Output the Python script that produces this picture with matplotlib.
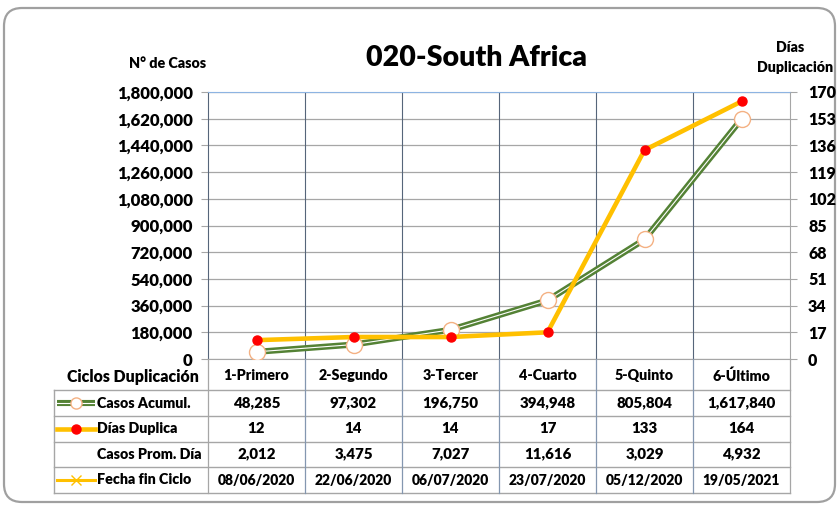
import numpy as np
import matplotlib
matplotlib.use('Agg')
import matplotlib.pyplot as plt
from matplotlib.patches import FancyBboxPatch
from matplotlib.ticker import FuncFormatter

plt.rcParams['font.family'] = ['Lato', 'DejaVu Sans']
plt.rcParams['font.weight'] = 'heavy'

ciclos = ['1-Primero', '2-Segundo', '3-Tercer', '4-Cuarto', '5-Quinto', '6-Último']
casos_acumul = [48285, 97302, 196750, 394948, 805804, 1617840]
dias_duplica = [12, 14, 14, 17, 133, 164]
casos_prom_dia = [2012, 3475, 7027, 11616, 3029, 4932]
fecha_fin = ['08/06/2020', '22/06/2020', '06/07/2020', '23/07/2020',
             '05/12/2020', '19/05/2021']

left_ticks = np.arange(0, 1800001, 180000)
right_ticks = np.arange(0, 171, 17)

GREEN = '#548235'
GOLD = '#FFC000'
RED = '#FF0000'
ORANGE = '#F4B183'
GRID = '#A6A6A6'
VLINE = '#56657A'

W, H = 840, 505
fig = plt.figure(figsize=(W / 100, H / 100), dpi=100)

# background / frame in pixel coordinates
bg = fig.add_axes([0, 0, 1, 1])
bg.set_xlim(0, W)
bg.set_ylim(H, 0)
bg.axis('off')
bg.add_patch(FancyBboxPatch((4, 8), 831, 494,
                            boxstyle='round,pad=0,rounding_size=18',
                            fc='white', ec='#A0A0A0', lw=1.6))
bg.text(476, 58, '020-South Africa', ha='center', va='center', fontsize=20.5)
bg.text(168, 63, 'N° de Casos', ha='center', va='center', fontsize=10.3)
bg.text(790, 47, 'Días', ha='center', va='center', fontsize=10.3)
bg.text(795, 68, 'Duplicación', ha='center', va='center', fontsize=10.3)

# main plot
x = np.arange(len(ciclos))
ax = fig.add_axes([208 / W, 1 - 359 / H, 582 / W, 267 / H])
ax.set_facecolor('none')
ax.set_xlim(-0.5, len(ciclos) - 0.5)
ax.set_ylim(0, 1800000)
ax.set_yticks(left_ticks)
ax.yaxis.set_major_formatter(FuncFormatter(lambda v, p: f'{v:,.0f}'))
ax.set_xticks([])
ax.tick_params(axis='y', labelsize=12, length=5, color=GRID, pad=6)
ax.grid(axis='y', color=GRID, lw=0.9)
ax.set_axisbelow(True)
for i in range(len(ciclos) - 1):
    ax.axvline(i + 0.5, color=VLINE, lw=0.8, zorder=1)
for s in ['left', 'right', 'bottom']:
    ax.spines[s].set_color(GRID)
ax.spines['left'].set_color(VLINE)
ax.spines['top'].set_color('#8DB4E2')

ax.plot(x, casos_acumul, color=GREEN, lw=4.4, zorder=3, solid_capstyle='butt')
ax.plot(x, casos_acumul, color='white', lw=0.8, zorder=3)
ax.plot(x, casos_acumul, ls='none', marker='o', ms=11.5, mfc='white',
        mec=ORANGE, mew=1.0, zorder=4)

ax2 = ax.twinx()
ax2.set_ylim(0, 170)
ax2.set_yticks(right_ticks)
ax2.tick_params(axis='y', labelsize=11.5, length=5, color=GRID, pad=8)
for s in ax2.spines.values():
    s.set_visible(False)
ax2.plot(x, dias_duplica, color=GOLD, lw=3.3, zorder=3)
ax2.plot(x, dias_duplica, ls='none', marker='o', ms=6.5, mfc=RED, mec=RED,
         zorder=4)

# data table below the plot
tleft = -0.5 - (208 - 54) / 97
tb = fig.add_axes([54 / W, 1 - 493 / H, 736 / W, 134 / H])
tb.set_xlim(tleft, len(ciclos) - 0.5)
tb.set_ylim(493, 359)
tb.axis('off')

row_edges = [390, 416, 441.5, 467, 493]
for y in row_edges:
    tb.plot([tleft, len(ciclos) - 0.5], [y, y], color=GRID, lw=1.0,
            clip_on=False)
tb.plot([tleft, tleft], [390, 493], color=GRID, lw=1.0, clip_on=False)
for i in range(len(ciclos) + 1):
    tb.plot([i - 0.5, i - 0.5], [359, 493],
            color='#8497B0' if 0 < i < len(ciclos) else GRID,
            lw=0.9, clip_on=False)

tb.text(tleft + 13 / 97, 377, 'Ciclos Duplicación', ha='left', va='center',
        fontsize=11.4)
rows = [
    ('Casos Acumul.', [f'{v:,}' for v in casos_acumul]),
    ('Días Duplica', [str(v) for v in dias_duplica]),
    ('Casos Prom. Día', [f'{v:,}' for v in casos_prom_dia]),
    ('Fecha fin Ciclo', fecha_fin),
]
for i, c in enumerate(ciclos):
    tb.text(i, 376, c, ha='center', va='center', fontsize=10.3)
lab_x = tleft + 43 / 97
for r, (label, vals) in enumerate(rows):
    yc = (row_edges[r] + row_edges[r + 1]) / 2
    tb.text(lab_x, yc, label, ha='left', va='center', fontsize=10.3)
    for i, v in enumerate(vals):
        tb.text(i, yc, v, ha='center', va='center',
                fontsize=10 if '/' in v else 10.8)

# legend keys in the table
sx0, sx1, smid = tleft + 3 / 97, tleft + 41 / 97, tleft + 22 / 97
yc = (row_edges[0] + row_edges[1]) / 2
tb.plot([sx0, sx1], [yc, yc], color=GREEN, lw=4.4, solid_capstyle='butt')
tb.plot([sx0, sx1], [yc, yc], color='white', lw=0.8)
tb.plot([smid], [yc], marker='o', ms=8, mfc='white', mec=ORANGE, mew=1.0)
yc = (row_edges[1] + row_edges[2]) / 2
tb.plot([sx0, sx1], [yc, yc], color=GOLD, lw=3.3)
tb.plot([smid], [yc], marker='o', ms=6.5, mfc=RED, mec=RED)
yc = (row_edges[3] + row_edges[4]) / 2
tb.plot([sx0, sx1], [yc, yc], color=GOLD, lw=2.2)
tb.plot([smid], [yc], marker='x', ms=7, mec=GOLD, mew=1.0)

fig.savefig('out.png', dpi=100)
